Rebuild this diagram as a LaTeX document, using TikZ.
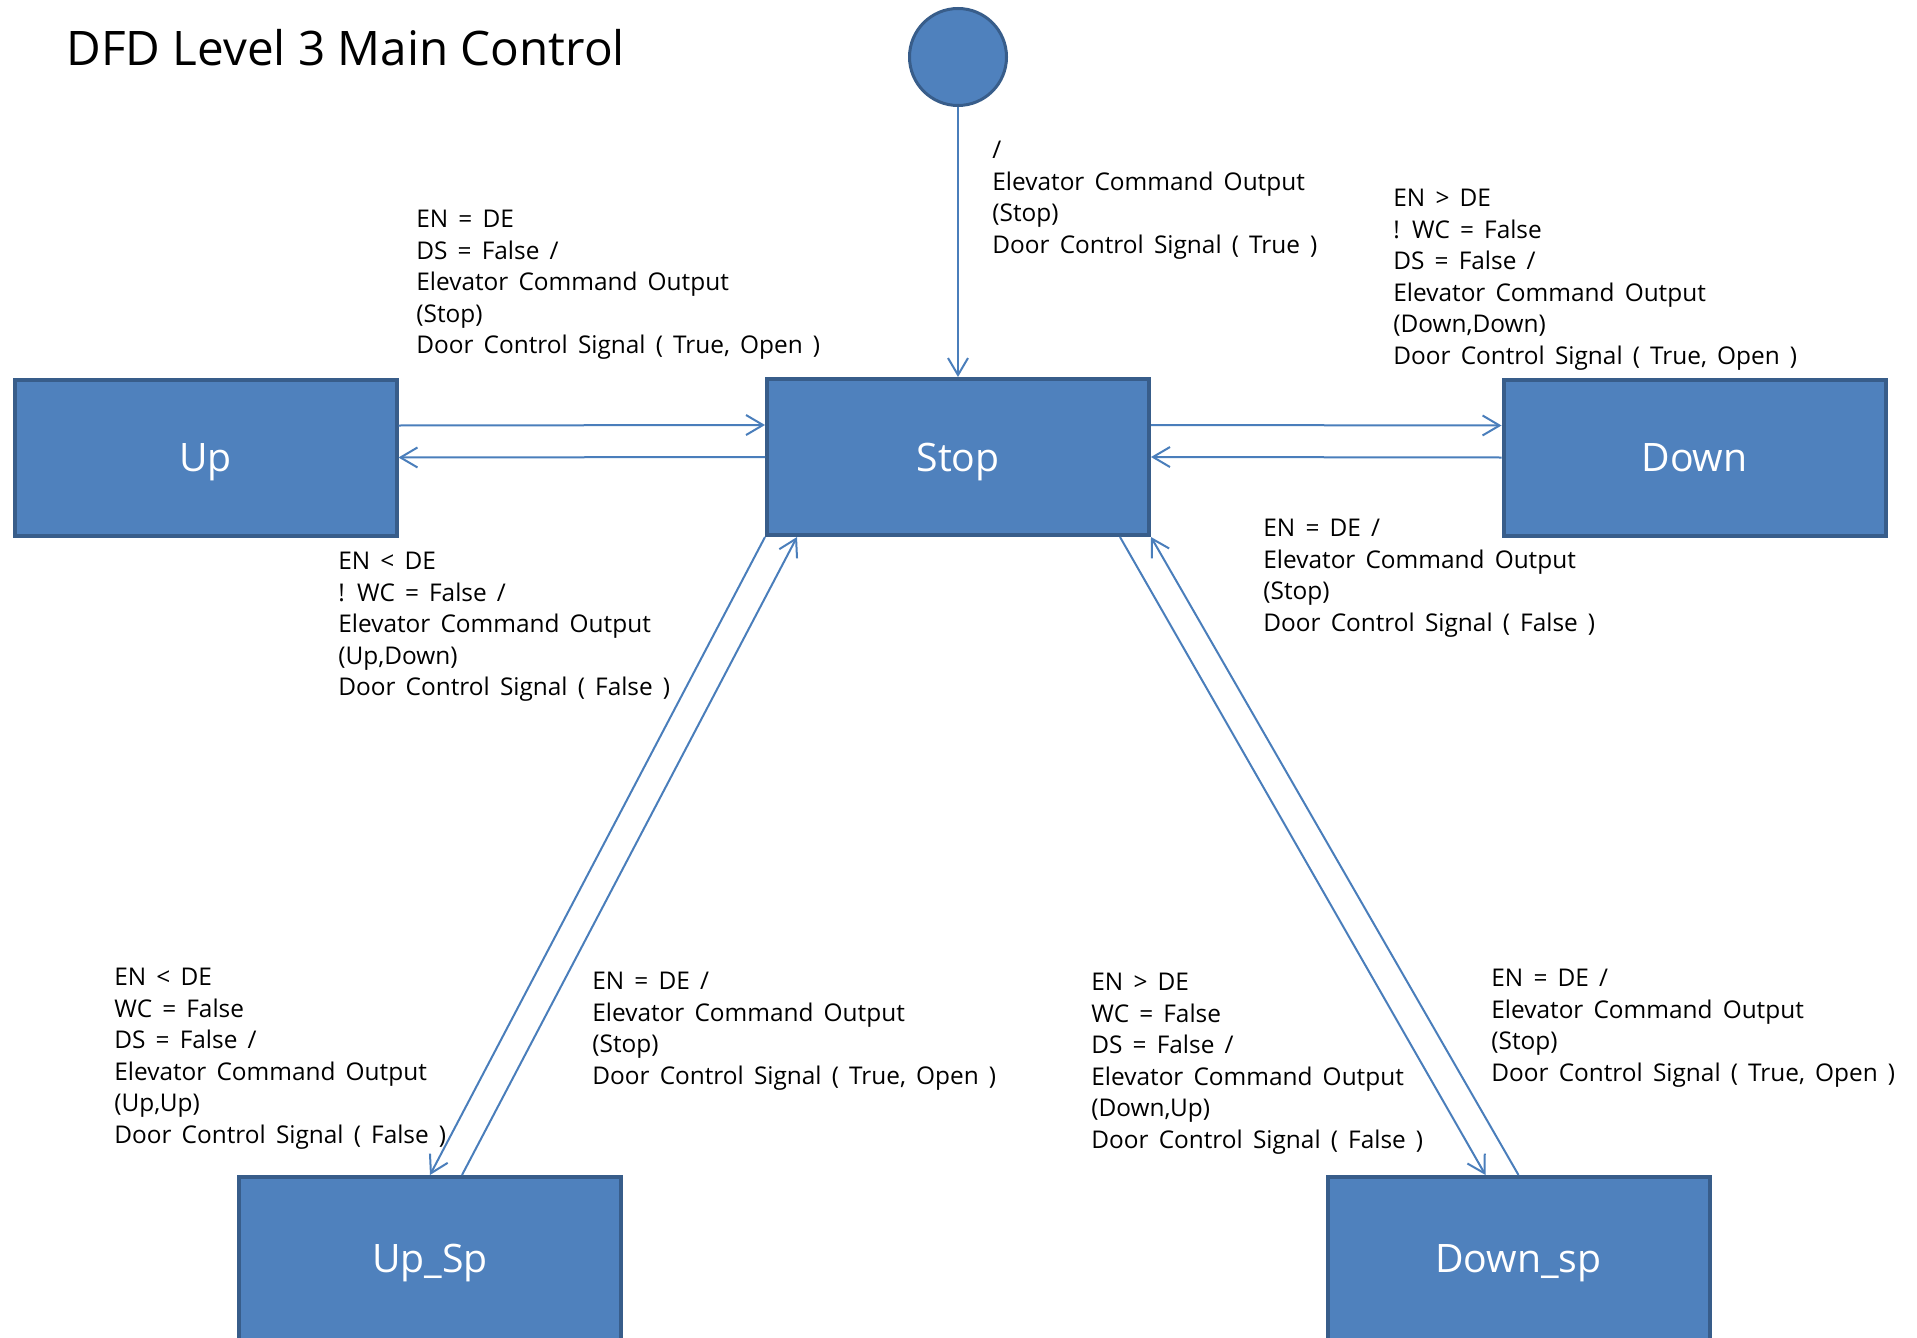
\documentclass[tikz,border=0pt]{standalone}
\usepackage{fontspec}
\setmainfont{Open Sans}
\newfontfamily\guardfamily[WordSpace=1.6]{Open Sans}
\usetikzlibrary{arrows.meta,calc}
\definecolor{boxfill}{HTML}{4F81BD}
\definecolor{boxedge}{HTML}{385D8A}
\definecolor{flowline}{HTML}{4A7EBB}
% strut fixing the height of the first line of a guard text
\newcommand{\firstline}{\rule{0pt}{12pt}}
\begin{document}
\begin{tikzpicture}[x=0.5pt,y=-0.5pt,
  statebox/.style={draw=boxedge, fill=boxfill, line width=2pt,
    minimum width=191pt, minimum height=78pt, inner sep=0pt,
    text=white, text height=14pt, text depth=0pt,
    font=\fontsize{19.6pt}{24pt}\selectfont},
  tallbox/.style={statebox, minimum height=88pt},
  boxtext/.style={text=white, inner sep=0pt, text height=14pt, text depth=0pt,
    font=\fontsize{19.6pt}{24pt}\selectfont},
  initstate/.style={circle, draw=boxedge, fill=boxfill, line width=1.5pt,
    minimum size=48.5pt, inner sep=0pt},
  flow/.style={draw=flowline, line width=1pt,
    -{Straight Barb[length=8.5pt,width=10pt]}},
  guard/.style={anchor=north west, inner sep=0pt, align=left,
    font=\guardfamily\fontsize{12.2pt}{15.8pt}\selectfont}
]
\useasboundingbox (0,0) rectangle (1917,1338);

% title
\node[anchor=base west, inner sep=0pt, font=\fontsize{23.8pt}{28pt}\selectfont]
  (title) at (66,66) {DFD Level 3 Main Control};

% states
\node[initstate] (init) at (958,57) {};
\node[statebox] (stop) at (958,457) {Stop};
\node[statebox] (up) at (205.5,457.5) {Up};
\node[statebox] (down) at (1694.5,457.5) {Down};
\node[tallbox, label={[boxtext, yshift=3.5pt]center:Up\_Sp}] (upsp) at (430,1265) {};
\node[tallbox, label={[boxtext, yshift=3.5pt]center:Down\_sp}] (downsp) at (1518.5,1265) {};

% transitions
\draw[flow] (init.south) -- (stop.north);
\draw[flow] ($(up.east)+(0,-32)$) -- ($(stop.west)+(0,-32)$);
\draw[flow] (stop.west) -- (up.east);
\draw[flow] ($(stop.east)+(0,-32)$) -- ($(down.west)+(0,-32)$);
\draw[flow] (down.west) -- (stop.east);
\draw[flow] (stop.south west) -- (upsp.north);
\draw[flow] ($(upsp.north)+(32,0)$) -- ($(stop.south west)+(32,0)$);
\draw[flow] ($(stop.south east)+(-31,0)$) -- ($(downsp.north)+(-33,0)$);
\draw[flow] (downsp.north) -- (stop.south east);

% guards and actions
\node[guard] (g-init) at (992,134) {\firstline/\\Elevator Command Output\\(Stop)\\Door Control Signal ( True )};
\node[guard] (g-upstop) at (416,203) {\firstline EN = DE\\DS = False /\\Elevator Command Output\\(Stop)\\Door Control Signal ( True, Open )};
\node[guard] (g-stopup) at (338,545) {\firstline EN < DE\\! WC = False /\\Elevator Command Output\\(Up,Down)\\Door Control Signal ( False )};
\node[guard] (g-stopdown) at (1393,182) {\firstline EN > DE\\! WC = False\\DS = False /\\Elevator Command Output\\(Down,Down)\\Door Control Signal ( True, Open )};
\node[guard] (g-downstop) at (1263,512) {\firstline EN = DE /\\Elevator Command Output\\(Stop)\\Door Control Signal ( False )};
\node[guard] (g-stopupsp) at (114,961) {\firstline EN < DE\\WC = False\\DS = False /\\Elevator Command Output\\(Up,Up)\\Door Control Signal ( False )};
\node[guard] (g-upspstop) at (592,965) {\firstline EN = DE /\\Elevator Command Output\\(Stop)\\Door Control Signal ( True, Open )};
\node[guard] (g-stopdownsp) at (1091,966) {\firstline EN > DE\\WC = False\\DS = False /\\Elevator Command Output\\(Down,Up)\\Door Control Signal ( False )};
\node[guard] (g-downspstop) at (1491,962) {\firstline EN = DE /\\Elevator Command Output\\(Stop)\\Door Control Signal ( True, Open )};
\end{tikzpicture}
\end{document}
